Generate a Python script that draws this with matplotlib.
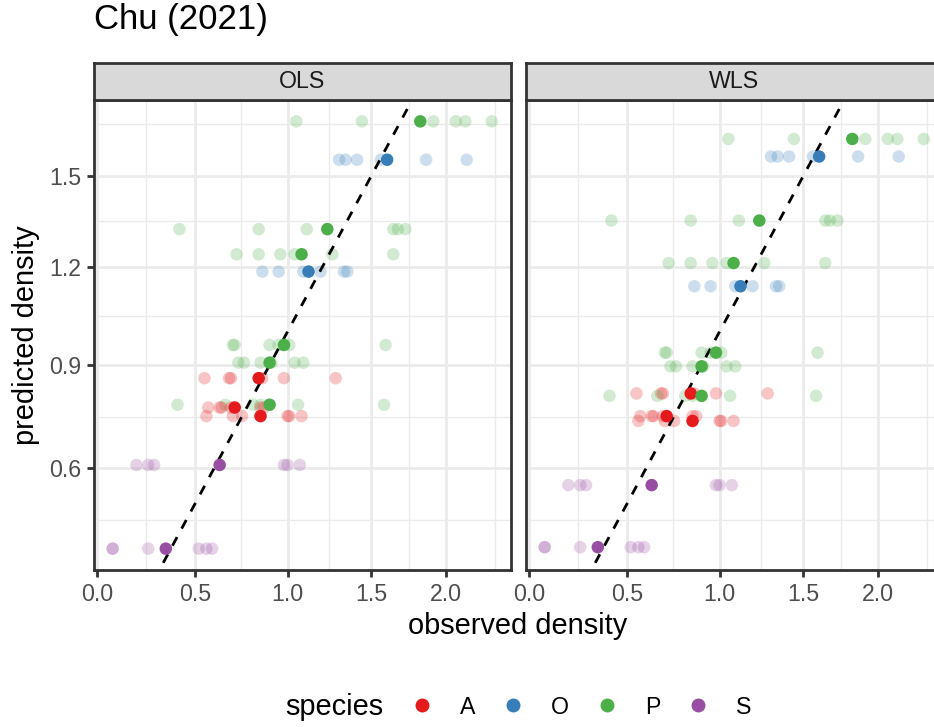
import numpy as np
import matplotlib.pyplot as plt
from matplotlib.lines import Line2D

plt.rcParams['font.family'] = ['Liberation Sans', 'DejaVu Sans']

# species colours (Set1)
species = ["A", "O", "P", "S"]
species_colors = ["#E41A1C", "#377EB8", "#4DAF4A", "#984EA3"]

# one entry per group: species, observed densities, mean observed, predictions
group_species = ["P", "O", "P", "P", "O", "P", "P", "A", "P", "A", "A", "S", "S"]
observed = [
    [1.05, 1.44, 1.91, 2.07, 2.14, 2.34],
    [1.30, 1.34, 1.41, 1.56, 1.86, 2.15],
    [0.42, 0.84, 1.11, 1.64, 1.67, 1.72],
    [0.72, 0.84, 0.96, 1.04, 1.26, 1.64],
    [0.86, 0.95, 1.09, 1.19, 1.33, 1.35],
    [0.70, 0.71, 0.90, 0.95, 1.01, 1.59],
    [0.73, 0.76, 0.85, 0.91, 1.04, 1.09],
    [0.55, 0.68, 0.69, 0.86, 0.98, 1.28],
    [0.41, 0.66, 0.81, 0.85, 1.06, 1.58],
    [0.57, 0.63, 0.64, 0.69, 0.85, 0.87],
    [0.56, 0.70, 0.75, 1.00, 1.01, 1.08],
    [0.20, 0.26, 0.29, 0.98, 1.00, 1.07],
    [0.08, 0.08, 0.26, 0.52, 0.56, 0.59],
]
mean_observed = [1.82, 1.60, 1.23, 1.08, 1.12, 0.98, 0.90, 0.84, 0.90, 0.71, 0.85, 0.63, 0.35]
pred_ols = [1.688, 1.554, 1.322, 1.241, 1.186, 0.960, 0.907, 0.861, 0.783, 0.775, 0.750, 0.610, 0.376]
pred_wls = [1.626, 1.565, 1.350, 1.213, 1.140, 0.937, 0.896, 0.816, 0.809, 0.750, 0.736, 0.553, 0.380]

x_breaks = [0.0, 0.5, 1.0, 1.5, 2.0]
y_breaks = [0.6, 0.9, 1.2, 1.5]


# pseudo-log scale, sigma = 1
def fwd(v):
    return np.arcsinh(np.asarray(v, dtype=float) / 2)


def inv(u):
    return 2 * np.sinh(np.asarray(u, dtype=float))


def expanded_limits(values):
    t = fwd(values)
    lo, hi = t.min(), t.max()
    pad = (hi - lo) * 0.05
    return lo - pad, hi + pad


def minor_breaks(majors, lims):
    b = fwd(majors)
    bd = b[1] - b[0]
    if lims[0] < b[0]:
        b = np.concatenate([[b[0] - bd], b])
    if lims[1] > b[-1]:
        b = np.concatenate([b, [b[-1] + bd]])
    mids = (b[:-1] + b[1:]) / 2
    mids = mids[(mids > lims[0]) & (mids < lims[1])]
    return inv(mids)


all_x = np.concatenate([np.concatenate(observed), mean_observed])
all_y = np.concatenate([pred_ols, pred_wls])
xlim_t = expanded_limits(all_x)
ylim_t = expanded_limits(all_y)

W, H = 934, 727
fig = plt.figure(figsize=(W / 100, H / 100), dpi=100)


def box(l, t, r, b):
    return [l / W, 1 - b / H, (r - l) / W, (b - t) / H]


col_of = dict(zip(species, species_colors))
panels = [("OLS", pred_ols, 93.7), ("WLS", pred_wls, 525.7)]
for k, (name, pred, left) in enumerate(panels):
    ax = fig.add_axes(box(left, 100, left + 417, 570))
    ax.set_xscale('function', functions=(fwd, inv))
    ax.set_yscale('function', functions=(fwd, inv))
    ax.set_xlim(inv(xlim_t[0]), inv(xlim_t[1]))
    ax.set_ylim(inv(ylim_t[0]), inv(ylim_t[1]))

    for i, sp in enumerate(group_species):
        c = col_of[sp]
        ax.scatter(observed[i], [pred[i]] * len(observed[i]), s=81, color=c,
                   alpha=0.25, edgecolors='none', zorder=2)
    ax.plot([0.01, 3], [0.01, 3], color='black', lw=2.0,
            linestyle=(0, (3.5, 3.5)), zorder=3)
    for i, sp in enumerate(group_species):
        ax.scatter(mean_observed[i], pred[i], s=81, color=col_of[sp],
                   edgecolors='none', zorder=4)

    ax.set_xticks(x_breaks)
    ax.set_xticklabels([f"{v:.1f}" for v in x_breaks])
    ax.set_xticks(minor_breaks(x_breaks, xlim_t), minor=True)
    ax.set_yticks(y_breaks)
    ax.set_yticklabels([f"{v:.1f}" for v in y_breaks])
    ax.set_yticks(minor_breaks(y_breaks, ylim_t), minor=True)

    ax.set_axisbelow(True)
    ax.grid(which='major', color='#EBEBEB', lw=2.0)
    ax.grid(which='minor', color='#EBEBEB', lw=1.0)
    ax.tick_params(which='minor', length=0)
    ax.tick_params(which='major', length=5.2, width=2.0, color='#333333',
                   labelsize=16.7, labelcolor='#4D4D4D', pad=4)
    if k == 1:
        ax.tick_params(axis='y', which='both', left=False, labelleft=False)
    for s in ax.spines.values():
        s.set_color('#333333')
        s.set_linewidth(2.0)

    strip = fig.add_axes(box(left, 63, left + 417, 100))
    strip.set_facecolor('#D9D9D9')
    strip.set_xticks([])
    strip.set_yticks([])
    for s in strip.spines.values():
        s.set_color('#333333')
        s.set_linewidth(2.0)
    strip.text(0.5, 0.5, name, ha='center', va='center', fontsize=16.7,
               color='#1A1A1A', transform=strip.transAxes)

fig.text(93.7 / W, 1 - 29.5 / H, "Chu (2021)", fontsize=25, ha='left',
         va='baseline', color='black')
fig.text(518 / W, 1 - 626 / H, "observed density", fontsize=20.9,
         ha='center', va='center')
fig.text(26 / W, 1 - 335 / H, "predicted density", fontsize=20.9,
         ha='center', va='center', rotation=90)

# legend
handles = [Line2D([], [], marker='o', ls='', color=c, markersize=9)
           for c in species_colors]
fig.legend(handles, species, ncol=4, loc='center left',
           bbox_to_anchor=(410 / W, 1 - 707 / H), frameon=False,
           fontsize=16.7, handlelength=1.0, handletextpad=1.14,
           columnspacing=1.13, borderpad=0, borderaxespad=0)
fig.text(285 / W, 1 - 715 / H, "species", fontsize=20.9, ha='left',
         va='baseline')

fig.savefig('out.png', dpi=100)
